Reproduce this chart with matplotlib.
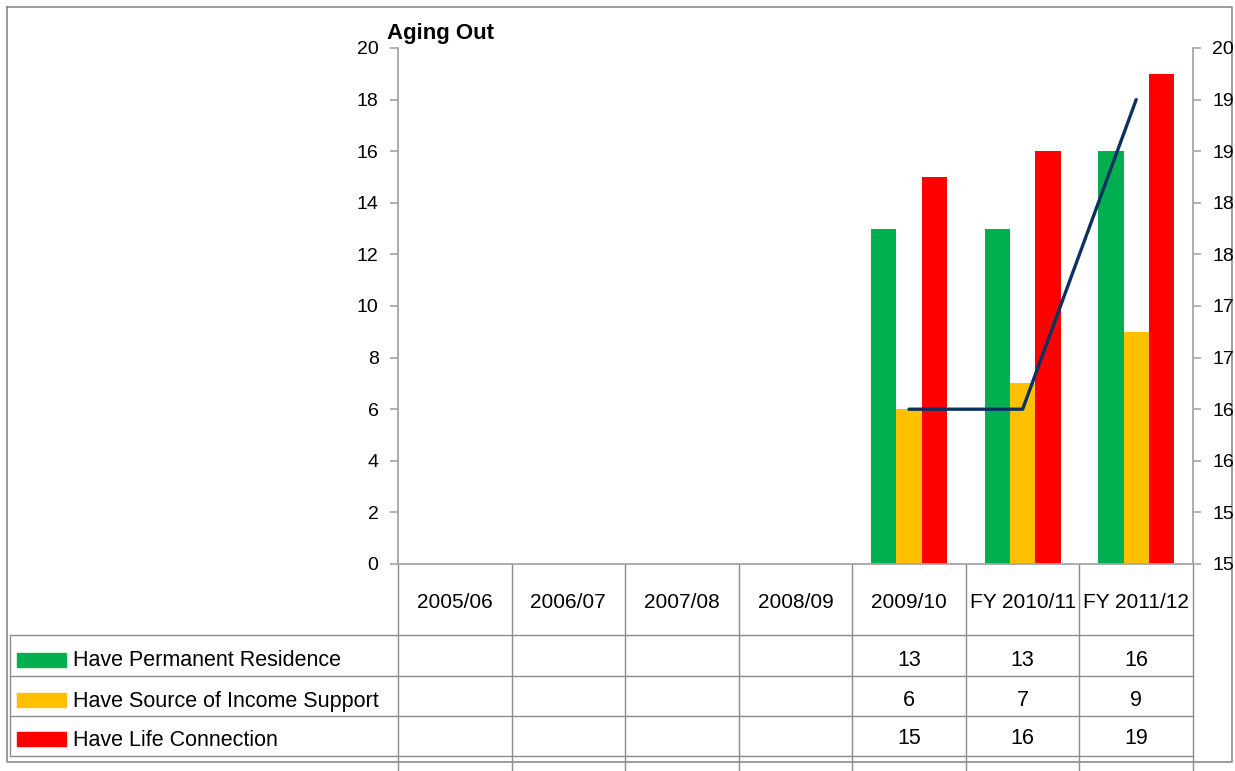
import numpy as np
import matplotlib.pyplot as plt
from matplotlib.transforms import blended_transform_factory

plt.rcParams['font.family'] = ['Liberation Sans', 'DejaVu Sans']

# data
years = ['2005/06', '2006/07', '2007/08', '2008/09', '2009/10', 'FY 2010/11', 'FY 2011/12']
residence = [np.nan, np.nan, np.nan, np.nan, 13, 13, 16]
income = [np.nan, np.nan, np.nan, np.nan, 6, 7, 9]
life = [np.nan, np.nan, np.nan, np.nan, 15, 16, 19]
avg_age = [np.nan, np.nan, np.nan, np.nan, 16.5, 16.5, 19.5]
series_names = ['Have Permanent Residence', 'Have Source of Income Support', 'Have Life Connection']
colors = ['#00b050', '#ffc000', '#ff0000']
right_ticks = [15, 15.5, 16, 16.5, 17, 17.5, 18, 18.5, 19, 19.5, 20]
right_labels = ['15', '15', '16', '16', '17', '17', '18', '18', '19', '19', '20']

W, H = 1235, 771
fig = plt.figure(figsize=(W / 100, H / 100), dpi=100)

# background layer in pixel coordinates (border + data table)
bg = fig.add_axes([0, 0, 1, 1], zorder=0)
bg.set_xlim(0, W)
bg.set_ylim(H, 0)
bg.axis('off')

# plot area
x0, x1, y0, y1 = 398, 1193, 48, 564
ax = fig.add_axes([x0 / W, 1 - y1 / H, (x1 - x0) / W, (y1 - y0) / H], zorder=2)
ax.patch.set_alpha(0)

x = np.arange(len(years))
bw = 0.223
for k, (vals, c) in enumerate(zip([residence, income, life], colors)):
    ax.bar(x + (k - 1) * bw, vals, width=bw, color=c, label=series_names[k])

ax.set_xlim(-0.5, len(years) - 0.5)
ax.set_ylim(0, 20)
ax.set_yticks(range(0, 21, 2))
ax.set_xticks([])
grey = '#a6a6a6'
for s in ['top', 'right']:
    ax.spines[s].set_visible(False)
for s in ['left', 'bottom']:
    ax.spines[s].set_color(grey)
    ax.spines[s].set_linewidth(1.3)
ax.tick_params(axis='y', colors=grey, labelcolor='black', labelsize=14, length=6, width=1.2, pad=8)

ax2 = ax.twinx()
ax2.plot(x, avg_age, color='#0b3162', lw=2.4, solid_capstyle='round')
ax2.set_ylim(15, 20)
ax2.set_yticks(right_ticks)
ax2.set_yticklabels(right_labels)
for s in ['top', 'left', 'bottom']:
    ax2.spines[s].set_visible(False)
ax2.spines['right'].set_color(grey)
ax2.spines['right'].set_linewidth(1.3)
ax2.tick_params(axis='y', colors=grey, labelcolor='black', labelsize=14, length=6, width=1.2, pad=8)

fig.text(387 / W, 1 - 33 / H, 'Aging Out', fontsize=16, fontweight='bold', va='center', ha='left')

# outer chart border
bg.plot([7, 1232, 1232, 7, 7], [7, 7, 762, 762, 7], color='#8c8c8c', lw=1.2)

# data table
line_c = '#8c8c8c'
tr = blended_transform_factory(ax.transData, bg.transData)
edges = np.arange(len(years) + 1) - 0.5
for e in edges:
    bg.plot([e, e], [564, H], color=line_c, lw=1, transform=tr)
row_lines = [635, 676, 716, 756]
for yl in row_lines:
    bg.plot([10, x1], [yl, yl], color=line_c, lw=1)
bg.plot([10, 10], [635, 756], color=line_c, lw=1)

for i, yr in enumerate(years):
    bg.text(i, 602, yr, transform=tr, ha='center', va='center', fontsize=15)

row_y = [660, 700, 739]
for r, (vals, name, c) in enumerate(zip([residence, income, life], series_names, colors)):
    bg.add_patch(plt.Rectangle((17, row_y[r] - 7), 49, 14, color=c))
    bg.text(73, row_y[r] + 1, name, ha='left', va='center', fontsize=15.5)
    for i, v in enumerate(vals):
        if not np.isnan(v):
            bg.text(i, row_y[r], f'{v:g}', transform=tr, ha='center', va='center', fontsize=15.5)

fig.savefig('out.png', dpi=100)
